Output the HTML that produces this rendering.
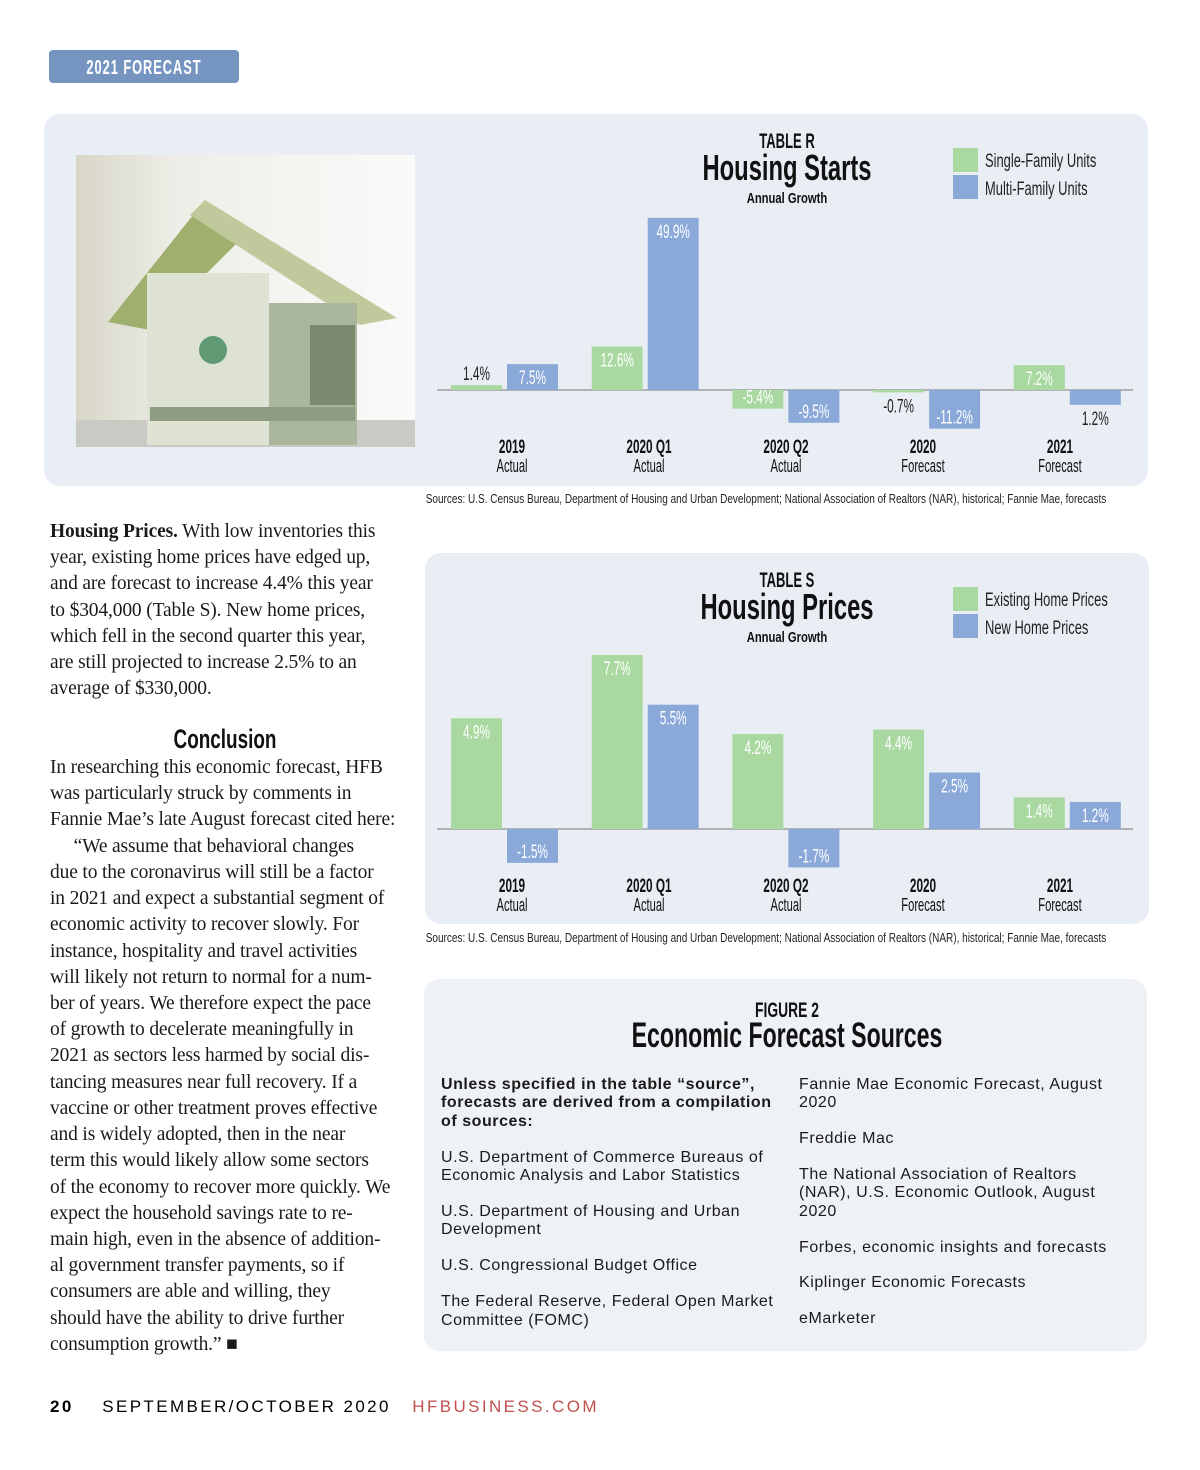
<!DOCTYPE html>
<html><head><meta charset="utf-8">
<style>
body{margin:0;background:#fff;}
#page{position:relative;width:1200px;height:1470px;overflow:hidden;background:#fff;font-family:"Liberation Sans",sans-serif;}
.ln{position:absolute;left:50px;white-space:nowrap;font-family:"Liberation Serif",serif;font-size:19.5px;line-height:22px;letter-spacing:-0.15px;color:#1a1a1a;}
.s{position:absolute;white-space:nowrap;font-size:16px;line-height:18px;letter-spacing:0.55px;color:#1a1a1a;}
svg{position:absolute;left:0;top:0;}
</style></head><body>
<div id="page">
<svg id="sv" width="1200" height="1470">
  <rect x="49" y="50" width="190" height="33" rx="4" fill="#7694c0"/>
  <rect x="44" y="114" width="1104" height="372" rx="16" fill="#e9eef5"/>
  <rect x="425" y="553" width="724" height="371" rx="16" fill="#e9eef5"/>
  <rect x="424" y="979" width="723" height="372" rx="16" fill="#eef1f5"/>
  <defs>
    <linearGradient id="bg" x1="0" y1="0" x2="1" y2="0"><stop offset="0" stop-color="#d8d6c8"/><stop offset="0.3" stop-color="#eeeee8"/><stop offset="1" stop-color="#fafafa"/></linearGradient>
  </defs>
  <g>
    <rect x="76" y="155" width="339" height="292" fill="url(#bg)"/>
    <rect x="76" y="420" width="339" height="27" fill="#c9cac4"/>
    <polygon points="108,322 205,200 240,240 150,330" fill="#9fb06e"/>
    <polygon points="205,200 397,318 360,325 190,215" fill="#bfc99c"/>
    <rect x="147" y="273" width="122" height="172" fill="#dde2d2"/>
    <rect x="269" y="303" width="88" height="142" fill="#aab79c"/>
    <circle cx="213" cy="350" r="14" fill="#5f9a74"/>
    <rect x="150" y="407" width="205" height="14" fill="#8f9c84"/>
    <rect x="310" y="325" width="45" height="80" fill="#7a8a6e"/>
  </g>
</svg>

<div class="ln" style="top:521px"><b>Housing Prices.</b> With low inventories this</div>
<div class="ln" style="top:547px">year, existing home prices have edged up,</div>
<div class="ln" style="top:573px">and are forecast to increase 4.4% this year</div>
<div class="ln" style="top:600px">to $304,000 (Table S). New home prices,</div>
<div class="ln" style="top:626px">which fell in the second quarter this year,</div>
<div class="ln" style="top:652px">are still projected to increase 2.5% to an</div>
<div class="ln" style="top:678px">average of $330,000.</div>
<div class="ln" style="top:757px">In researching this economic forecast, HFB</div>
<div class="ln" style="top:783px">was particularly struck by comments in</div>
<div class="ln" style="top:809px">Fannie Mae’s late August forecast cited here:</div>
<div class="ln" style="top:836px">&nbsp;&nbsp;&nbsp;&nbsp;&nbsp;“We assume that behavioral changes</div>
<div class="ln" style="top:862px">due to the coronavirus will still be a factor</div>
<div class="ln" style="top:888px">in 2021 and expect a substantial segment of</div>
<div class="ln" style="top:914px">economic activity to recover slowly. For</div>
<div class="ln" style="top:941px">instance, hospitality and travel activities</div>
<div class="ln" style="top:967px">will likely not return to normal for a num-</div>
<div class="ln" style="top:993px">ber of years. We therefore expect the pace</div>
<div class="ln" style="top:1019px">of growth to decelerate meaningfully in</div>
<div class="ln" style="top:1045px">2021 as sectors less harmed by social dis-</div>
<div class="ln" style="top:1072px">tancing measures near full recovery. If a</div>
<div class="ln" style="top:1098px">vaccine or other treatment proves effective</div>
<div class="ln" style="top:1124px">and is widely adopted, then in the near</div>
<div class="ln" style="top:1150px">term this would likely allow some sectors</div>
<div class="ln" style="top:1177px">of the economy to recover more quickly. We</div>
<div class="ln" style="top:1203px">expect the household savings rate to re-</div>
<div class="ln" style="top:1229px">main high, even in the absence of addition-</div>
<div class="ln" style="top:1255px">al government transfer payments, so if</div>
<div class="ln" style="top:1281px">consumers are able and willing, they</div>
<div class="ln" style="top:1308px">should have the ability to drive further</div>
<div class="ln" style="top:1334px">consumption growth.” ■</div>

<div class="s" style="left:441px;top:1076px;font-weight:bold">Unless specified in the table “source”,</div>
<div class="s" style="left:441px;top:1094px;font-weight:bold">forecasts are derived from a compilation</div>
<div class="s" style="left:441px;top:1113px;font-weight:bold">of sources:</div>
<div class="s" style="left:441px;top:1149px">U.S. Department of Commerce Bureaus of</div>
<div class="s" style="left:441px;top:1167px">Economic Analysis and Labor Statistics</div>
<div class="s" style="left:441px;top:1203px">U.S. Department of Housing and Urban</div>
<div class="s" style="left:441px;top:1221px">Development</div>
<div class="s" style="left:441px;top:1257px">U.S. Congressional Budget Office</div>
<div class="s" style="left:441px;top:1293px">The Federal Reserve, Federal Open Market</div>
<div class="s" style="left:441px;top:1312px">Committee (FOMC)</div>
<div class="s" style="left:799px;top:1076px">Fannie Mae Economic Forecast, August</div>
<div class="s" style="left:799px;top:1094px">2020</div>
<div class="s" style="left:799px;top:1130px">Freddie Mac</div>
<div class="s" style="left:799px;top:1166px">The National Association of Realtors</div>
<div class="s" style="left:799px;top:1184px">(NAR), U.S. Economic Outlook, August</div>
<div class="s" style="left:799px;top:1203px">2020</div>
<div class="s" style="left:799px;top:1239px">Forbes, economic insights and forecasts</div>
<div class="s" style="left:799px;top:1274px">Kiplinger Economic Forecasts</div>
<div class="s" style="left:799px;top:1310px">eMarketer</div>

<div style="position:absolute;left:50px;top:1397px;font-size:17px;letter-spacing:2.4px;white-space:nowrap"><b>20</b>&nbsp;&nbsp;&nbsp;&nbsp;SEPTEMBER/OCTOBER 2020&nbsp;&nbsp;&nbsp;<span style="color:#c0504d">HFBUSINESS.COM</span></div>
</div>
<script>
const categories = ["2019","2020 Q1","2020 Q2","2020","2021"];
const subLabels = ["Actual","Actual","Actual","Forecast","Forecast"];
const startsSingle = [1.4,12.6,-5.4,-0.7,7.2];
const startsMulti = [7.5,49.9,-9.5,-11.2,-4.3];
const startsSingleLabels = ["1.4%","12.6%","-5.4%","-0.7%","7.2%"];
const startsMultiLabels = ["7.5%","49.9%","-9.5%","-11.2%","1.2%"];
const pricesExisting = [4.9,7.7,4.2,4.4,1.4];
const pricesNew = [-1.5,5.5,-1.7,2.5,1.2];
const pricesExistingLabels = ["4.9%","7.7%","4.2%","4.4%","1.4%"];
const pricesNewLabels = ["-1.5%","5.5%","-1.7%","2.5%","1.2%"];

const NS="http://www.w3.org/2000/svg";
const sv=document.getElementById('sv');
const GREEN="#a9d9a1", BLUE="#8aa9d9";
function el(tag,attrs,parent){const e=document.createElementNS(NS,tag);for(const k in attrs)e.setAttribute(k,attrs[k]);(parent||sv).appendChild(e);return e;}
function ctext(x,y,str,size,bold,fill,anchor,squeeze,parent){
  const t=el('text',{x:x,y:y,'font-size':size,'font-weight':bold?'bold':'normal',fill:fill,'text-anchor':anchor||'middle'},parent);
  t.textContent=str;
  const w=t.getComputedTextLength();
  t.setAttribute('textLength',(w*squeeze).toFixed(1));
  t.setAttribute('lengthAdjust','spacingAndGlyphs');
  return t;
}
const groupLeft = i => 451 + i*140.7;
const labelCenter = i => 512 + i*137;

const tag=ctext(144,74,'2021 FORECAST',20,true,'#fff','middle',0.72);
tag.setAttribute('letter-spacing','1.5');



function drawChart(cfg){
  const g=el('g',{});
  
  
  const y = v => cfg.base - v*cfg.ppu;
  const t1=ctext(787,cfg.top+26,cfg.tableLabel,21,true,'#111','middle',0.62,g);
  
  const t2=ctext(787,cfg.top+58,cfg.title,36,true,'#111','middle',0.66,g);
  
  const t3=ctext(787,cfg.top+81,'Annual Growth',15,true,'#111','middle',0.75,g);
  
  const l1=el('rect',{x:953,y:cfg.top+26,width:25,height:24,fill:GREEN},g);
  
  const l2=el('rect',{x:953,y:cfg.top+53,width:25,height:24,fill:BLUE},g);
  
  const lt1=ctext(985,cfg.top+45,cfg.leg[0],19,false,'#222','start',0.68,g);
  
  const lt2=ctext(985,cfg.top+73,cfg.leg[1],19,false,'#222','start',0.68,g);
  
  const ax=el('line',{x1:437,x2:1133,y1:cfg.base,y2:cfg.base,stroke:'#777','stroke-width':1},g);
  
  const series=[[cfg.a,cfg.al,GREEN,0],[cfg.b,cfg.bl,BLUE,56]];
  series.forEach((s,si)=>{
    s[0].forEach((v,i)=>{
      const x=groupLeft(i)+s[3], w=51;
      const y0=Math.min(y(v),cfg.base), h=Math.max(Math.abs(y(v)-cfg.base),2);
      const r=el('rect',{x:x,y:y0,width:w,height:h,fill:s[2]},g);
      
      
      let ly, col;
      if(h>=18){col='#fff'; ly = v>=0 ? y0+20 : y0+h-5;}
      else {col='#222'; ly = v>=0 ? y0-5 : y0+h+20;}
      const lt=ctext(x+w/2,ly,s[1][i],19,false,col,'middle',0.62,g);
      
      
    });
  });
  categories.forEach((c,i)=>{
    const a=ctext(labelCenter(i),cfg.catY,c,19,true,'#111','middle',0.62,g);
    
    
    const b=ctext(labelCenter(i),cfg.catY+19,subLabels[i],18,false,'#111','middle',0.62,g);
    
    
  });
  const src=ctext(766,cfg.srcY,'Sources: U.S. Census Bureau, Department of Housing and Urban Development; National Association of Realtors (NAR), historical; Fannie Mae, forecasts',13,false,'#222','middle',0.77,g);
  
  
}
drawChart({name:'housing-starts-chart',tableLabel:'TABLE R',title:'Housing Starts',leg:['Single-Family Units','Multi-Family Units'],top:122,base:390,ppu:3.45,a:startsSingle,b:startsMulti,al:startsSingleLabels,bl:startsMultiLabels,catY:453,srcY:503});
drawChart({name:'housing-prices-chart',tableLabel:'TABLE S',title:'Housing Prices',leg:['Existing Home Prices','New Home Prices'],top:561,base:829,ppu:22.6,a:pricesExisting,b:pricesNew,al:pricesExistingLabels,bl:pricesNewLabels,catY:892,srcY:942});

const c1=ctext(225,748,'Conclusion',27,true,'#111','middle',0.7);


const f1=ctext(787,1017,'FIGURE 2',21,true,'#111','middle',0.66);


const f2=ctext(787,1047,'Economic Forecast Sources',35,true,'#111','middle',0.66);


</script>
</body></html>
